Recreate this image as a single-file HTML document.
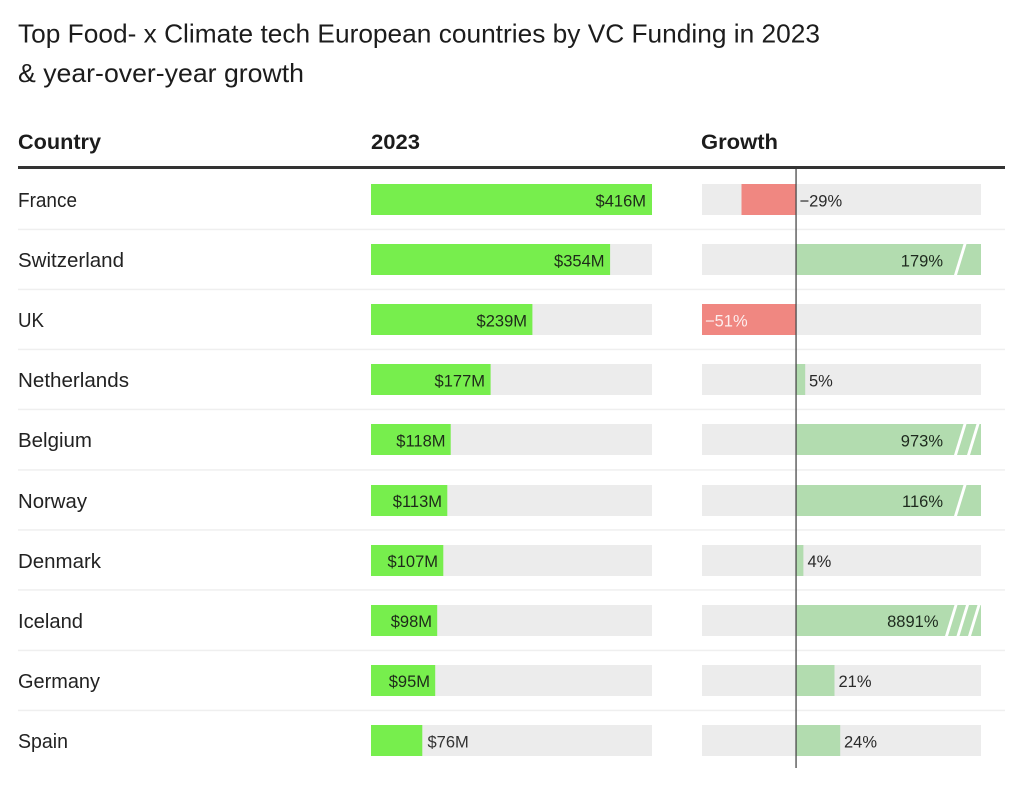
<!DOCTYPE html>
<html>
<head>
<meta charset="utf-8">
<style>
  html, body { margin:0; padding:0; background:#ffffff; }
  svg { display:block; }
  text { font-family: "Liberation Sans", "DejaVu Sans", sans-serif; }
</style>
</head>
<body>
<svg width="1024" height="786" viewBox="0 0 1024 786" xmlns="http://www.w3.org/2000/svg">
  <rect x="0" y="0" width="1024" height="786" fill="#ffffff"/>

  <!-- Title -->
  <text x="18" y="42.5" font-size="26" fill="#1c1c1c" textLength="802" lengthAdjust="spacingAndGlyphs">Top Food- x Climate tech European countries by VC Funding in 2023</text>
  <text x="18" y="82" font-size="26" fill="#1c1c1c" textLength="286" lengthAdjust="spacingAndGlyphs">&amp; year-over-year growth</text>

  <!-- Header -->
  <text x="18" y="149" font-size="21" font-weight="bold" fill="#1c1c1c" textLength="83" lengthAdjust="spacingAndGlyphs">Country</text>
  <text x="371" y="149" font-size="21" font-weight="bold" fill="#1c1c1c" textLength="49" lengthAdjust="spacingAndGlyphs">2023</text>
  <text x="701" y="149" font-size="21" font-weight="bold" fill="#1c1c1c" textLength="77" lengthAdjust="spacingAndGlyphs">Growth</text>
  <rect x="18" y="166" width="987" height="3" fill="#333333"/>

  <!-- Row separators -->
  <g fill="#efefef">
    <rect x="18" y="228.7" width="987" height="1.5"/>
    <rect x="18" y="288.7" width="987" height="1.5"/>
    <rect x="18" y="348.7" width="987" height="1.5"/>
    <rect x="18" y="408.7" width="987" height="1.5"/>
    <rect x="18" y="469.2" width="987" height="1.5"/>
    <rect x="18" y="529.2" width="987" height="1.5"/>
    <rect x="18" y="589.2" width="987" height="1.5"/>
    <rect x="18" y="649.7" width="987" height="1.5"/>
    <rect x="18" y="709.7" width="987" height="1.5"/>
  </g>

  <!-- Country names -->
  <g font-size="20" fill="#222222" lengthAdjust="spacingAndGlyphs">
    <text x="18" y="207" textLength="59" lengthAdjust="spacingAndGlyphs">France</text>
    <text x="18" y="267" textLength="106" lengthAdjust="spacingAndGlyphs">Switzerland</text>
    <text x="18" y="327" textLength="26" lengthAdjust="spacingAndGlyphs">UK</text>
    <text x="18" y="387" textLength="111" lengthAdjust="spacingAndGlyphs">Netherlands</text>
    <text x="18" y="447" textLength="74" lengthAdjust="spacingAndGlyphs">Belgium</text>
    <text x="18" y="508" textLength="69" lengthAdjust="spacingAndGlyphs">Norway</text>
    <text x="18" y="568" textLength="83" lengthAdjust="spacingAndGlyphs">Denmark</text>
    <text x="18" y="628" textLength="65" lengthAdjust="spacingAndGlyphs">Iceland</text>
    <text x="18" y="688" textLength="82" lengthAdjust="spacingAndGlyphs">Germany</text>
    <text x="18" y="748" textLength="50" lengthAdjust="spacingAndGlyphs">Spain</text>
  </g>

  <!-- 2023 tracks -->
  <g fill="#ececec">
    <rect x="371" y="184" width="281" height="31"/>
    <rect x="371" y="244" width="281" height="31"/>
    <rect x="371" y="304" width="281" height="31"/>
    <rect x="371" y="364" width="281" height="31"/>
    <rect x="371" y="424" width="281" height="31"/>
    <rect x="371" y="485" width="281" height="31"/>
    <rect x="371" y="545" width="281" height="31"/>
    <rect x="371" y="605" width="281" height="31"/>
    <rect x="371" y="665" width="281" height="31"/>
    <rect x="371" y="725" width="281" height="31"/>
  </g>
  <!-- 2023 bars -->
  <g fill="#77ee4d">
    <rect x="371" y="184" width="281" height="31"/>
    <rect x="371" y="244" width="239.1" height="31"/>
    <rect x="371" y="304" width="161.4" height="31"/>
    <rect x="371" y="364" width="119.6" height="31"/>
    <rect x="371" y="424" width="79.7" height="31"/>
    <rect x="371" y="485" width="76.3" height="31"/>
    <rect x="371" y="545" width="72.3" height="31"/>
    <rect x="371" y="605" width="66.2" height="31"/>
    <rect x="371" y="665" width="64.2" height="31"/>
    <rect x="371" y="725" width="51.3" height="31"/>
  </g>
  <!-- 2023 labels -->
  <g font-size="16.5" fill="#1e2a1a" text-anchor="end">
    <text x="646" y="206.5">$416M</text>
    <text x="604.5" y="266.5">$354M</text>
    <text x="527" y="326.5">$239M</text>
    <text x="485" y="386.5">$177M</text>
    <text x="445.5" y="446.5">$118M</text>
    <text x="442" y="507">$113M</text>
    <text x="438" y="567">$107M</text>
    <text x="432" y="627">$98M</text>
    <text x="430" y="687">$95M</text>
  </g>
  <text x="427.5" y="747.5" font-size="16.5" fill="#333333">$76M</text>

  <!-- Growth tracks -->
  <g fill="#ececec">
    <rect x="702" y="184" width="279" height="31"/>
    <rect x="702" y="244" width="279" height="31"/>
    <rect x="702" y="304" width="279" height="31"/>
    <rect x="702" y="364" width="279" height="31"/>
    <rect x="702" y="424" width="279" height="31"/>
    <rect x="702" y="485" width="279" height="31"/>
    <rect x="702" y="545" width="279" height="31"/>
    <rect x="702" y="605" width="279" height="31"/>
    <rect x="702" y="665" width="279" height="31"/>
    <rect x="702" y="725" width="279" height="31"/>
  </g>
  <!-- Negative bars -->
  <g fill="#f08781">
    <rect x="741.5" y="184" width="54.5" height="31"/>
    <rect x="702" y="304" width="94" height="31"/>
  </g>
  <!-- Positive bars -->
  <g fill="#b2dcaf">
    <rect x="796" y="244" width="185" height="31"/>
    <rect x="796" y="364" width="9.2" height="31"/>
    <rect x="796" y="424" width="185" height="31"/>
    <rect x="796" y="485" width="185" height="31"/>
    <rect x="796" y="545" width="7.4" height="31"/>
    <rect x="796" y="605" width="185" height="31"/>
    <rect x="796" y="665" width="38.5" height="31"/>
    <rect x="796" y="725" width="44.2" height="31"/>
  </g>
  <!-- Break slashes -->
  <g fill="#ffffff">
    <polygon points="954,275 957,275 966.5,244 963.5,244"/>
    <polygon points="954,455 957,455 966.5,424 963.5,424"/>
    <polygon points="967,455 970,455 979.5,424 976.5,424"/>
    <polygon points="954,516 957,516 966.5,485 963.5,485"/>
    <polygon points="945,636 948,636 957.5,605 954.5,605"/>
    <polygon points="956.5,636 959.5,636 969,605 966,605"/>
    <polygon points="968,636 971,636 980.5,605 977.5,605"/>
  </g>

  <!-- Zero line -->
  <rect x="795.4" y="169" width="1.3" height="599" fill="#4a4a4a"/>

  <!-- Growth labels -->
  <g font-size="16.5" fill="#2a2a2a">
    <text x="799.5" y="206.5">−29%</text>
    <text x="943" y="266.5" text-anchor="end" fill="#1e2a1e">179%</text>
    <text x="705" y="326.5" fill="#fdeeee">−51%</text>
    <text x="809" y="386.5">5%</text>
    <text x="943" y="446.5" text-anchor="end" fill="#1e2a1e">973%</text>
    <text x="943" y="507" text-anchor="end" fill="#1e2a1e">116%</text>
    <text x="807.5" y="567">4%</text>
    <text x="938.5" y="627" text-anchor="end" fill="#1e2a1e">8891%</text>
    <text x="838.5" y="687">21%</text>
    <text x="844" y="747.5">24%</text>
  </g>
</svg>
</body>
</html>
